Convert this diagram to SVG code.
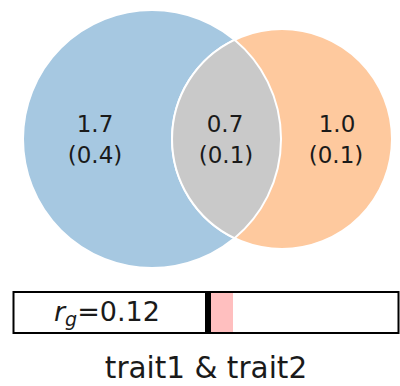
<svg xmlns="http://www.w3.org/2000/svg" width="400" height="386" viewBox="0 0 400 386">
<style>
.lbl{font-family:"DejaVu Sans",sans-serif;font-size:23px;fill:#1a1a1a;text-anchor:middle}
.set{stroke:#ffffff;stroke-width:2}
</style>
<rect width="400" height="386" fill="#ffffff"/>
<g id="venn">
<g id="trait1"><circle class="set" cx="152" cy="139" r="129" fill="#a6c8e1"/></g>
<g id="trait2"><circle class="set" cx="282" cy="139" r="110" fill="#fec99e"/></g>
<g id="overlap"><path class="set" d="M234.5,39.8 A129,129 0 0 1 234.5,238.2 A110,110 0 0 1 234.5,39.8 Z" fill="#c9c9c9"/></g>
<g id="labels">
<text class="lbl" x="95" y="132">1.7</text>
<text class="lbl" x="95" y="163">(0.4)</text>
<text class="lbl" x="225" y="132">0.7</text>
<text class="lbl" x="226" y="163">(0.1)</text>
<text class="lbl" x="337" y="132">1.0</text>
<text class="lbl" x="336" y="163">(0.1)</text>
</g>
</g>
<g id="rgbar">
<rect x="13.5" y="292" width="385" height="41" fill="#ffffff" stroke="#000000" stroke-width="2"/>
<rect x="211" y="293" width="22" height="39" fill="#ffbfbf"/>
<rect x="205" y="293" width="6" height="39" fill="#000000"/>
<text x="54" y="321" style="font-family:'DejaVu Sans',sans-serif;font-size:27px;fill:#1a1a1a"><tspan font-style="italic">r</tspan><tspan font-style="italic" font-size="19" dy="5">g</tspan><tspan dy="-5">=0.12</tspan></text>
</g>
<text x="206" y="378" style="font-family:'DejaVu Sans',sans-serif;font-size:29.5px;fill:#1a1a1a;text-anchor:middle">trait1 &amp; trait2</text>
</svg>
